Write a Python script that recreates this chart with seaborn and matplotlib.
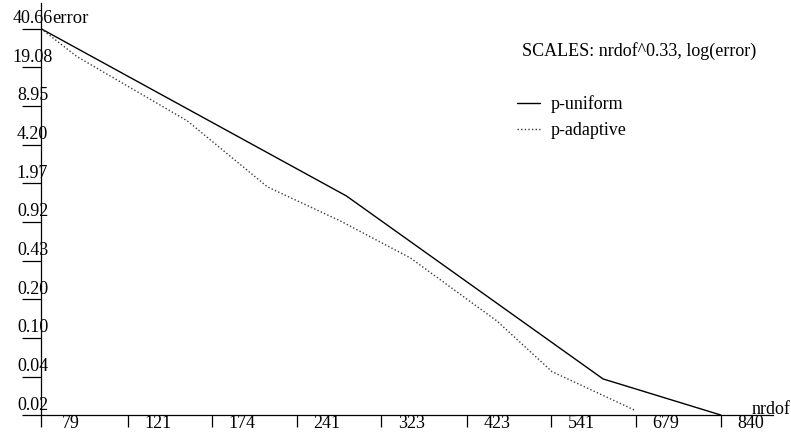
import numpy as np
import pandas as pd
import matplotlib
matplotlib.use("Agg")
import matplotlib.pyplot as plt
import matplotlib.transforms as mtransforms
import seaborn as sns

# Horizontal axis uses nrdof**EXP, vertical axis uses log(error)
EXP = 0.33

uniform_nrdof = [79, 287, 623, 840]
uniform_error = [40.66, 1.539, 0.0428, 0.0211]

adaptive_nrdof = [79, 95, 157, 216, 281, 355, 463, 542, 678]
adaptive_error = [40.66, 23.5, 6.68, 1.835, 0.944, 0.457, 0.133, 0.0494, 0.0231]

xtick_values = [79, 121, 174, 241, 323, 423, 541, 679, 840]
ytick_labels = ["40.66", "19.08", "8.95", "4.20", "1.97", "0.92",
                "0.43", "0.20", "0.10", "0.04", "0.02"]
ytick_top = 40.66
ytick_ratio = 2.1315

df = pd.concat([
    pd.DataFrame({"nrdof": uniform_nrdof, "error": uniform_error, "method": "p-uniform"}),
    pd.DataFrame({"nrdof": adaptive_nrdof, "error": adaptive_error, "method": "p-adaptive"}),
], ignore_index=True)

sns.set_theme(style="white")
plt.rcParams["font.family"] = ["Liberation Serif", "DejaVu Serif"]
plt.rcParams["text.color"] = "black"

W, H, DPI = 791, 433, 100
fig = plt.figure(figsize=(W / DPI, H / DPI), dpi=DPI)
fig.patch.set_facecolor("white")

# axes box in pixels: left 41, right 773, top 3, bottom 415.3
left, right, top, bottom = 41, 773, 3, 415.3
ax = fig.add_axes([left / W, (H - bottom) / H, (right - left) / W, (bottom - top) / H])
ax.set_facecolor("white")

sns.lineplot(data=df, x="nrdof", y="error", hue="method", style="method",
             palette={"p-uniform": "black", "p-adaptive": "#3a3a3a"},
             dashes={"p-uniform": "", "p-adaptive": (1, 1.6)},
             estimator=None, sort=False, linewidth=1.0, ax=ax)

def fwd(x):
    return np.power(np.clip(x, 1e-9, None), EXP)

def inv(x):
    return np.power(np.clip(x, 1e-9, None), 1.0 / EXP)

ax.set_xscale("function", functions=(fwd, inv))
ax.set_yscale("log")

ytick_pos = ytick_top / ytick_ratio ** np.arange(len(ytick_labels))
ax.set_xlim(79, 950)
ax.set_ylim(ytick_pos[-1], 67.2)

ax.set_xticks(xtick_values)
ax.set_xticklabels([str(v) for v in xtick_values])
ax.set_yticks(ytick_pos)
ax.set_yticklabels(ytick_labels)
ax.xaxis.set_minor_locator(matplotlib.ticker.NullLocator())
ax.yaxis.set_minor_locator(matplotlib.ticker.NullLocator())

ax.set_xlabel("")
ax.set_ylabel("")

for side in ("top", "right"):
    ax.spines[side].set_visible(False)
for side in ("left", "bottom"):
    ax.spines[side].set_color("black")
    ax.spines[side].set_linewidth(0.9)

px = 72 / DPI
ax.tick_params(axis="x", which="major", bottom=True, direction="out", length=12 * px,
               width=0.9, color="black", pad=0, labelsize=13, labelcolor="black")
ax.tick_params(axis="y", which="major", left=True, direction="out", length=19 * px,
               width=0.9, color="black", pad=0, labelsize=13, labelcolor="black")

x_off = mtransforms.ScaledTranslation(30 / DPI, 12 / DPI, fig.dpi_scale_trans)
for lab in ax.get_xticklabels():
    lab.set_transform(lab.get_transform() + x_off)

y_off = mtransforms.ScaledTranslation(10.5 / DPI, 5.7 / DPI, fig.dpi_scale_trans)
for lab in ax.get_yticklabels():
    lab.set_horizontalalignment("center")
    lab.set_verticalalignment("baseline")
    lab.set_transform(lab.get_transform() + y_off)

fig.text(52 / W, (H - 23) / H, "error", fontsize=13.3, va="baseline", ha="left")
fig.text(752 / W, (H - 414) / H, "nrdof", fontsize=13, va="baseline", ha="left")
fig.text(521.7 / W, (H - 56) / H, "SCALES: nrdof^0.33, log(error)", fontsize=13,
         va="baseline", ha="left")

handles, labels = ax.get_legend_handles_labels()
ax.legend(handles, labels, loc="upper left",
          bbox_to_anchor=(516.7 / W, 1 - 95 / H), bbox_transform=fig.transFigure,
          frameon=False, borderpad=0, borderaxespad=0, handlelength=1.3,
          handletextpad=0.6, labelspacing=0.5, fontsize=13)

fig.savefig("out.png", dpi=DPI, facecolor="white")
